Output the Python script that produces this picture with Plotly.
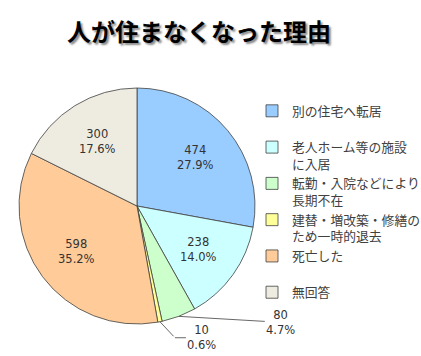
import math
import plotly.graph_objects as go

categories = ["別の住宅へ転居", "老人ホーム等の施設<br>に入居", "転勤・入院などにより<br>長期不在",
              "建替・増改築・修繕の<br>ため一時的退去", "死亡した", "無回答"]
values = [474, 238, 80, 10, 598, 300]
colors = ["#99CCFF", "#CCFFFF", "#CCFFCC", "#FFFF99", "#FFCC99", "#EEECE1"]
title_text = "人が住まなくなった理由"

W, H = 421, 356
CX, CY, R = 137, 206, 118  # pie centre / radius in pixels (layout)

total = sum(values)
pcts = [v / total for v in values]
outside = [False, False, True, True, False, False]

legend_names = [c if "<br>" in c else c + "<br> " for c in categories]

fig = go.Figure(go.Pie(
    labels=legend_names,
    values=values,
    sort=False,
    direction="clockwise",
    rotation=0,
    marker=dict(colors=colors, line=dict(color="#404040", width=0.8)),
    textinfo="none",
    domain=dict(x=[(CX - R) / W, (CX + R) / W], y=[(H - CY - R) / H, (H - CY + R) / H]),
    showlegend=True,
    hoverinfo="label+value+percent",
))

label_font = dict(family="DejaVu Sans", size=11.5, color="#333333")
# leader-line styling: (kink offset or None, label offset from kink/edge) in pixels
leaders = {2: (None, (102, 6)), 3: ((15, 16), (27, 0))}
annotations = []
cum = 0.0
for i, v in enumerate(values):
    mid = (cum + pcts[i] / 2) * 2 * math.pi
    cum += pcts[i]
    txt = f"{v}<br>{pcts[i]*100:.1f}%"
    if outside[i]:
        px = CX + R * math.sin(mid)
        py = CY - R * math.cos(mid)
        kink, (lx, ly) = leaders[i]
        if kink is not None:
            annotations.append(dict(
                x=px / W, y=1 - py / H, xref="paper", yref="paper",
                text="", showarrow=True, arrowhead=0, standoff=0, startstandoff=0,
                arrowwidth=0.8, arrowcolor="#404040", ax=kink[0], ay=kink[1],
            ))
            px, py = px + kink[0], py + kink[1]
        annotations.append(dict(
            x=px / W, y=1 - py / H, xref="paper", yref="paper",
            text=txt, showarrow=True, arrowhead=0,
            arrowwidth=0.8, arrowcolor="#404040", ax=lx, ay=ly, font=label_font,
        ))
    else:
        px = CX + 0.64 * R * math.sin(mid)
        py = CY - 0.64 * R * math.cos(mid)
        annotations.append(dict(
            x=px / W, y=1 - py / H, xref="paper", yref="paper",
            text=txt, showarrow=False, font=label_font,
            xanchor="center", yanchor="middle",
        ))

fig.update_layout(
    width=W, height=H,
    margin=dict(l=0, r=0, t=0, b=0, autoexpand=False),
    paper_bgcolor="white",
    title=dict(text=title_text, x=199 / W, xanchor="center", y=1 - 33 / H, yanchor="middle",
               font=dict(family="Noto Sans CJK JP", size=24, color="#000000", weight="bold",
                         shadow="2px 2px 2px #888888")),
    legend=dict(x=252 / W, xanchor="left", y=1 - 96 / H, yanchor="top", valign="top",
                font=dict(family="Noto Sans CJK JP", size=12.8, color="#404040"),
                bgcolor="rgba(0,0,0,0)"),
    annotations=annotations,
)

fig.write_html("out.html", config={"displayModeBar": False},
               post_script="document.body.style.margin='0px';")
